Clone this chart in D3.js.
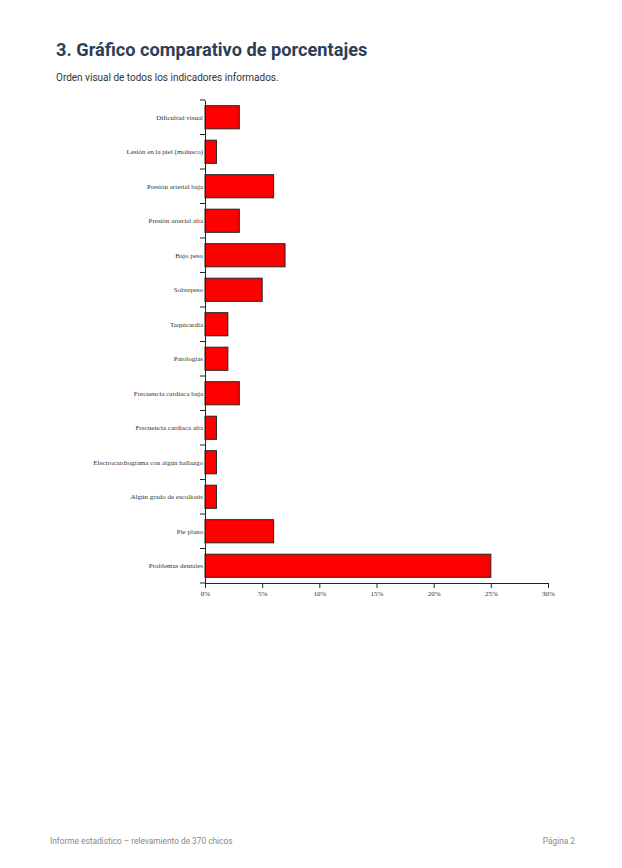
<!DOCTYPE html>
<html lang="es">
<head>
<meta charset="utf-8">
<title>Gráfico comparativo de porcentajes</title>
<script src="https://d3js.org/d3.v7.min.js"></script>
<style>
  body { margin: 0; background: #fff; }
  svg { display: block; }
</style>
</head>
<body>
<svg id="page" width="622" height="868"></svg>
<script>
// indicadores, de arriba hacia abajo
var categories = [
  "Dificultad visual",
  "Lesión en la piel (molusco)",
  "Presión arterial baja",
  "Presión arterial alta",
  "Bajo peso",
  "Sobrepeso",
  "Taquicardia",
  "Patologías",
  "Frecuencia cardíaca baja",
  "Frecuencia cardíaca alta",
  "Electrocardiograma con algún hallazgo",
  "Algún grado de escoliosis",
  "Pie plano",
  "Problemas dentales"
];
var percents = [3, 1, 6, 3, 7, 5, 2, 2, 3, 1, 1, 1, 6, 25];
var xTicks = [0, 5, 10, 15, 20, 25, 30];

var svg = d3.select("#page");

// encabezado
svg.append("text")
  .attr("x", 56).attr("y", 56)
  .attr("font-family", "Roboto, sans-serif")
  .attr("font-weight", "bold")
  .attr("font-size", 18.2)
  .attr("fill", "#2c3e58")
  .text("3. Gráfico comparativo de porcentajes");

svg.append("text")
  .attr("x", 56).attr("y", 81)
  .attr("font-family", "Roboto, sans-serif")
  .attr("font-size", 10)
  .attr("fill", "#333")
  .text("Orden visual de todos los indicadores informados.");

// pie de página
svg.append("text")
  .attr("x", 50).attr("y", 844)
  .attr("font-family", "Roboto, sans-serif")
  .attr("font-size", 8.3)
  .attr("fill", "#888")
  .text("Informe estadístico – relevamiento de 370 chicos");

svg.append("text")
  .attr("x", 575).attr("y", 844)
  .attr("text-anchor", "end")
  .attr("font-family", "Roboto, sans-serif")
  .attr("font-size", 8.3)
  .attr("fill", "#888")
  .text("Página 2");

// grafico
var mLeft = 205, mTop = 100, width = 343, height = 483;
var g = svg.append("g").attr("transform", "translate(" + mLeft + "," + mTop + ")");

var x = d3.scaleLinear().domain([0, 30]).range([0, width]);
var y = d3.scaleBand().domain(categories).range([0, height]).paddingInner(0.33).paddingOuter(0.165);

g.selectAll("rect.bar")
  .data(categories)
  .join("rect")
  .attr("class", "bar")
  .attr("x", x(0))
  .attr("y", function(d) { return y(d); })
  .attr("width", function(d, i) { return x(percents[i]); })
  .attr("height", y.bandwidth())
  .attr("fill", "#ff0000")
  .attr("stroke", "#222")
  .attr("stroke-width", 1);

// eje Y: etiquetas centradas, marcas entre bandas
var yAxis = g.append("g")
  .call(d3.axisLeft(y).tickSize(0).tickPadding(2).tickSizeOuter(0));
yAxis.select(".domain").attr("stroke", "#222");
yAxis.selectAll("text")
  .attr("font-family", "'Liberation Serif', serif")
  .attr("font-size", 7)
  .attr("fill", "#333");

var step = y.step();
g.selectAll("line.ytick")
  .data(d3.range(categories.length + 1))
  .join("line")
  .attr("class", "ytick")
  .attr("x1", -5).attr("x2", 0)
  .attr("y1", function(i) { return i * step; })
  .attr("y2", function(i) { return i * step; })
  .attr("stroke", "#222");

// eje X
var xAxis = g.append("g")
  .attr("transform", "translate(0," + height + ")")
  .call(d3.axisBottom(x).tickValues(xTicks).tickSize(5).tickSizeOuter(0)
    .tickFormat(function(d) { return d + "%"; }));
xAxis.select(".domain").attr("stroke", "#222");
xAxis.selectAll("line").attr("stroke", "#222");
xAxis.selectAll("text")
  .attr("font-family", "'Liberation Serif', serif")
  .attr("font-size", 7)
  .attr("fill", "#333");
</script>
</body>
</html>
